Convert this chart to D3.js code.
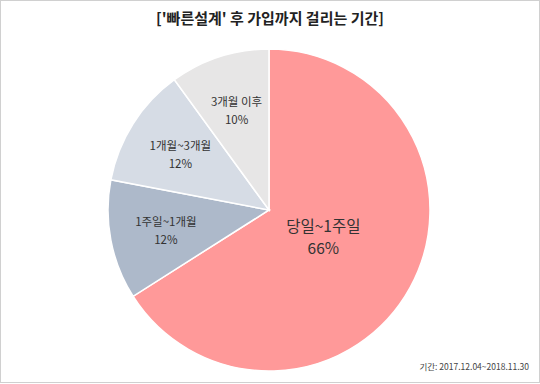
<!DOCTYPE html>
<html>
<head>
<meta charset="utf-8">
<script src="https://cdn.jsdelivr.net/npm/d3@7"></script>
<style>
    body { margin: 0; background: #fff; }
    svg { display: block; font-family: "Noto Sans CJK KR", "Noto Sans", sans-serif; }
</style>
</head>
<body>
<svg id="piechart" width="540" height="384"></svg>
<script>

var categories = ["당일~1주일", "1주일~1개월", "1개월~3개월", "3개월 이후"];
var shares = [66, 12, 12, 10];
var colors = ["#ff9999", "#adb9ca", "#d6dce5", "#e7e6e6"];
var title = "['빠른설계' 후 가입까지 걸리는 기간]";
var note = "기간: 2017.12.04~2018.11.30";

pieChart();

function pieChart() {
    var svg = d3.select("#piechart"),
        width = +svg.attr("width"),
        height = +svg.attr("height"),
        radius = 161;

    svg.append("rect")
        .attr("x", 0.5).attr("y", 0.5)
        .attr("width", width - 1).attr("height", height - 2)
        .attr("fill", "#fff")
        .attr("stroke", "#d0d0d0");

    svg.append("text")
        .attr("x", 270)
        .attr("y", 24)
        .attr("text-anchor", "middle")
        .attr("font-size", 15)
        .attr("font-weight", "bold")
        .attr("fill", "#222")
        .text(title);

    var data = categories.map(function (c, i) {
        return {name: c, value: shares[i], color: colors[i]};
    });

    var pie = d3.pie()
        .sort(null)
        .value(function (d) { return d.value; });

    var arc = d3.arc().innerRadius(0).outerRadius(radius);

    var g = svg.append("g")
        .attr("transform", "translate(269,210)");

    var arcs = pie(data);

    g.selectAll("path")
        .data(arcs)
        .enter().append("path")
        .attr("d", arc)
        .attr("fill", function (d) { return d.data.color; })
        .attr("stroke", "#fff")
        .attr("stroke-width", 1.5);

    // big slice gets its label close to the centre, small ones further out
    var labels = g.selectAll(".lbl")
        .data(arcs)
        .enter().append("g")
        .attr("class", "lbl")
        .attr("transform", function (d) {
            var r = d.data.value > 50 ? 62 : 105;
            var a = (d.startAngle + d.endAngle) / 2;
            return "translate(" + (Math.sin(a) * r) + "," + (-Math.cos(a) * r) + ")";
        });

    labels.append("text")
        .attr("text-anchor", "middle")
        .attr("y", function (d) { return d.data.value > 50 ? -8 : -4; })
        .attr("font-size", function (d) { return d.data.value > 50 ? 15.5 : 11.5; })
        .attr("fill", "#333")
        .text(function (d) { return d.data.name; });

    labels.append("text")
        .attr("text-anchor", "middle")
        .attr("y", function (d) { return d.data.value > 50 ? 14 : 14; })
        .attr("font-size", function (d) { return d.data.value > 50 ? 15.5 : 11.5; })
        .attr("fill", "#333")
        .text(function (d) { return d.data.value + "%"; });

    svg.append("text")
        .attr("x", 529)
        .attr("y", 370)
        .attr("text-anchor", "end")
        .attr("font-size", 8.5)
        .attr("fill", "#444")
        .text(note);
}
</script>
</body>
</html>
